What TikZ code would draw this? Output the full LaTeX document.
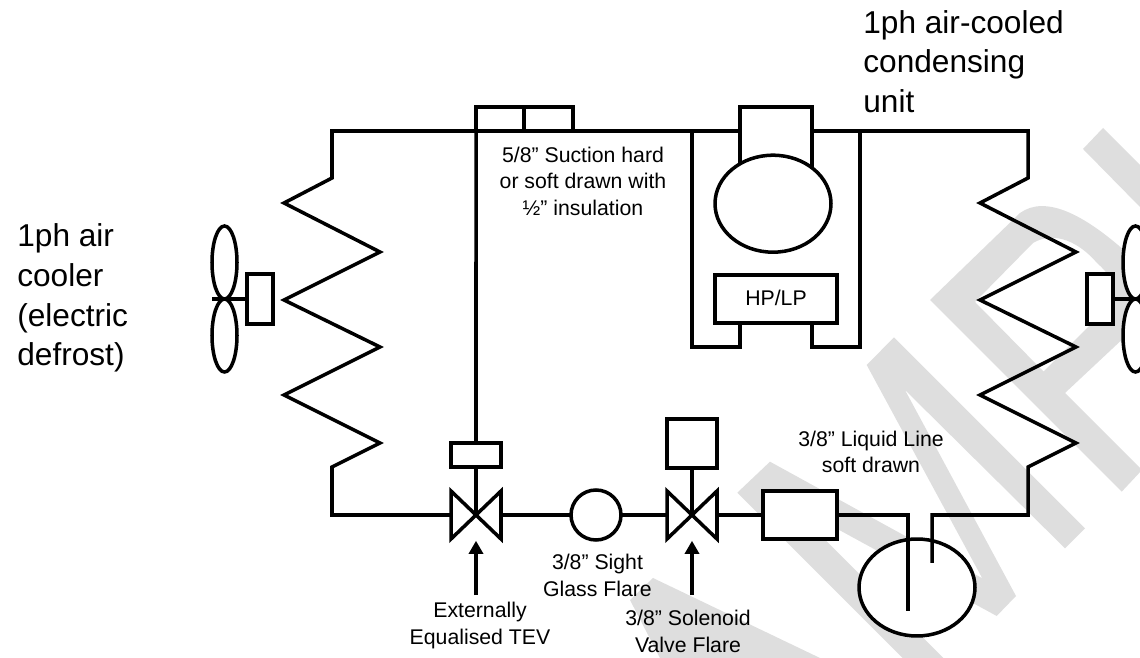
\documentclass[tikz,border=0pt]{standalone}
\usepackage{fontspec}
\setmainfont{Liberation Sans}
\usetikzlibrary{shapes.geometric, arrows.meta}
\definecolor{wmgray}{HTML}{DEDEDE}
\tikzset{
  pipe/.style={line width=2pt, line join=miter},
  comp/.style={draw, fill=white, line width=2pt, inner sep=0pt, outer sep=0pt},
  hold/.style={inner sep=0pt, outer sep=0pt, minimum width=1cm, minimum height=0.96cm},
  vessel/.style={comp, ellipse, minimum width=2.32cm, minimum height=1.94cm},
  blade/.style={comp, ellipse, minimum width=0.5cm, minimum height=1.46cm},
  motor/.style={comp, minimum width=0.52cm, minimum height=1cm},
  smalltxt/.style={inner sep=0pt, align=center, anchor=north, font=\fontsize{12.1}{15.2}\selectfont},
  bigtxt/.style={inner sep=0pt, align=left, anchor=north west, font=\fontsize{18}{22.6}\selectfont},
  flow/.style={line width=2.4pt, -{Triangle[width=8pt,length=7.5pt]}, shorten >=1pt}
}
\begin{document}
\begin{tikzpicture}[x=0.02cm, y=-0.02cm]
\useasboundingbox (0,0) rectangle (1140,658);
\clip (0,0) rectangle (1140,658);

\fill[wmgray] (653,578) -- (820,658) -- (660,658) -- (630,600) -- cycle;
\fill[wmgray] (737.3,492.7) -- (770,461.7) -- (982.3,578.3) -- (866.7,365) -- (894,337.3) -- (1085,528.3) -- (1065,548.3) -- (905,390) -- (1016,596) -- (996.7,616) -- (786.7,501.3) -- (943.3,658) -- (902.7,658) -- cycle;
\fill[wmgray, even odd rule] (930,300) -- (1020,213) .. controls (1045,195) and (1085,212) .. (1140,265) -- (1175,290) -- (1065,393) -- (1142,470) -- (1121.7,491.7) -- cycle
  (975,302) -- (1033,243) .. controls (1055,230) and (1080,243) .. (1097,263) .. controls (1122,285) and (1115,300) .. (1100,315) -- (1043.5,371.5) -- cycle;
\fill[wmgray] (1103,128) -- (1140,165) -- (1140,207) -- (1083,149) -- cycle;

\node[comp, minimum width=0.96cm, minimum height=0.48cm] (insA) at (500,119) {};
\node[comp, minimum width=0.98cm, minimum height=0.48cm] (insB) at (548.5,119) {};
\node[comp, minimum width=1.44cm, minimum height=1.66cm] (dome) at (776,148.5) {};
\node[vessel] (comp) at (773,203.7) {};
\node[comp, minimum width=2.44cm, minimum height=0.97cm] (hplp) at (776,299) {};
\node[comp, minimum width=1cm, minimum height=0.48cm] (tevhead) at (476,455) {};
\node[comp, minimum width=1cm, minimum height=0.97cm] (solhead) at (692,443.5) {};
\node[comp, minimum width=1.48cm, minimum height=0.96cm] (filter) at (800,515) {};
\node[comp, circle, minimum size=1cm] (sight) at (596,515) {};
\node[vessel] (recv) at (917,587.5) {};
\node[hold] (tev) at (476,515) {};
\node[hold] (sol) at (692,515) {};

\node[blade] (bladeLa) at (224.5,262.5) {};
\node[blade] (bladeLb) at (224.5,335.5) {};
\node[motor] (motorL) at (260,299) {};
\node[blade] (bladeRa) at (1135.5,262.5) {};
\node[blade] (bladeRb) at (1135.5,335.5) {};
\node[motor] (motorR) at (1100,299) {};

\coordinate (shaftL) at (212,299);
\coordinate (shaftR) at (1148,299);
\coordinate (coilLtop) at (332,178);
\coordinate (coilLbot) at (332,467);
\coordinate (coilRtop) at (1028,178);
\coordinate (coilRbot) at (1028,467);
\coordinate (recvIn) at (908,611);
\coordinate (recvOut) at (932,563);
\coordinate (tevFoot) at (476,595);
\coordinate (solFoot) at (692,595);
\coordinate (frameL) at (692,131);
\coordinate (frameR) at (860,131);
\coordinate (legL) at (740,323.5);
\coordinate (legR) at (812,323.5);

\draw[pipe] (tev.north west) -- (tev.south east) -- (tev.north east) -- (tev.south west) -- cycle;
\draw[pipe] (sol.north west) -- (sol.south east) -- (sol.north east) -- (sol.south west) -- cycle;

\draw[pipe] (tev.west) -| (coilLbot) -- (380,443) -- (284,395) -- (380,347) -- (284,300) -- (380,252) -- (284,203) -- (coilLtop) -- (332,131) -- (dome.west |- frameL);
\draw[pipe] (dome.east |- frameR) -- (1028,131) -- (coilRtop) -- (980,203) -- (1076,252) -- (980,300) -- (1076,347) -- (980,395) -- (1076,443) -- (coilRbot) -- (1028,515) -| (recvOut);
\draw[pipe] (filter.east) -| (recvIn);
\draw[pipe] (tev.east) -- (sight.west);
\draw[pipe] (sight.east) -- (sol.west);
\draw[pipe] (sol.east) -- (filter.west);
\draw[pipe] (tev.center) -- (tevhead.south);
\draw[pipe] (tevhead.north) -- (insA.south west);
\draw[pipe] (sol.center) -- (solhead.south);
\draw[pipe] (frameL) |- (740,347) -- (legL);
\draw[pipe] (frameR) |- (812,347) -- (legR);
\draw[pipe] (shaftL) -- (motorL.west);
\draw[pipe] (motorR.east) -- (shaftR);

\draw[flow] (tevFoot) -- (tev.south);
\draw[flow] (solFoot) -- (sol.south);

\node[smalltxt] (suction) at (583,146.5) {5/8” Suction hard\\or soft drawn with\\½” insulation};
\node[inner sep=0pt, font=\fontsize{12.1}{15.2}\selectfont, anchor=base] (hplabel) at (776,306) {HP/LP};
\node[smalltxt] (liquid) at (871,430.5) {3/8” Liquid Line\\soft drawn};
\node[smalltxt] (glass) at (597.5,554) {3/8” Sight\\Glass Flare};
\node[smalltxt] (solabel) at (688,610) {3/8” Solenoid\\Valve Flare};
\node[smalltxt] (tevlabel) at (480,602) {Externally\\Equalised TEV};
\node[bigtxt] (unitlabel) at (863,10) {1ph air-cooled\\condensing\\unit};
\node[bigtxt] (coolerlabel) at (17,223.5) {1ph air\\cooler\\(electric\\defrost)};
\end{tikzpicture}
\end{document}
